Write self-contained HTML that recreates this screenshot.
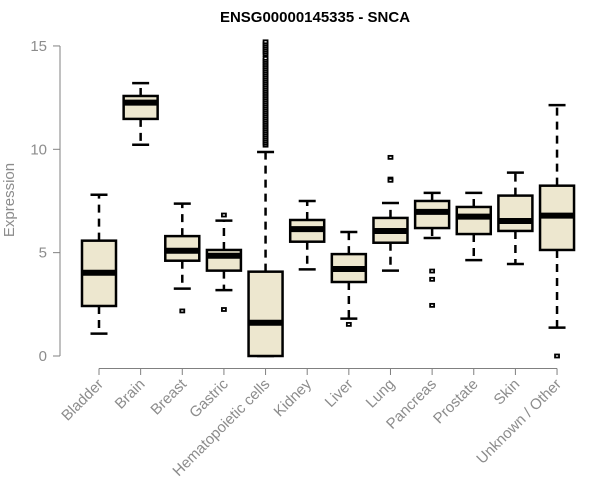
<!DOCTYPE html>
<html><head><meta charset="utf-8"><style>
body{margin:0;background:#fff;}
svg{display:block;font-family:"Liberation Sans",Arial,sans-serif;}
</style></head><body>
<svg id="chart" width="600" height="500">
<text x="315" y="22" text-anchor="middle" font-weight="bold" font-size="15" fill="#000">ENSG00000145335 - SNCA</text>
<text transform="translate(14,200) rotate(-90)" text-anchor="middle" font-size="15" fill="#8c8c8c">Expression</text>
<g id="plot"></g>
</svg>
<script>
const categories=["Bladder","Brain","Breast","Gastric","Hematopoietic cells","Kidney","Liver","Lung","Pancreas","Prostate","Skin","Unknown / Other"];
const whiskerLow=[1.08,10.22,3.26,3.19,0,4.19,1.81,4.13,5.71,4.64,4.45,1.37];
const q1=[2.42,11.47,4.61,4.13,0,5.53,3.58,5.48,6.19,5.9,6.05,5.13];
const medians=[4.03,12.26,5.09,4.85,1.61,6.14,4.21,6.05,6.97,6.74,6.53,6.79];
const q3=[5.58,12.58,5.8,5.13,4.08,6.58,4.93,6.68,7.5,7.21,7.76,8.24];
const whiskerHigh=[7.8,13.2,7.37,6.55,9.87,7.5,6.0,7.4,7.89,7.89,8.87,12.14];
const outlierCat=[2,3,3,6,7,7,7,8,8,8,11];
const outlierVal=[2.18,2.25,6.82,1.53,9.61,8.56,8.5,4.11,3.71,2.45,0.0];
const hematoOutliers=[10.2,10.3,10.4,10.5,10.6,10.7,10.8,10.9,11.0,11.1,11.2,11.3,11.4,11.5,11.6,11.7,11.8,11.9,12.0,12.1,12.2,12.3,12.4,12.5,12.6,12.7,12.8,12.9,13.0,13.1,13.2,13.3,13.4,13.5,13.6,13.7,13.8,13.9,14.0,14.1,14.2,14.3,14.4,14.6,14.7,14.8,14.9,15.0,15.1,15.2];
const yTicks=[0,5,10,15];

const NS="http://www.w3.org/2000/svg";
const g=document.getElementById('plot');
const y=v=>356-v*20.67;
const x=i=>99+i*41.64;
function mk(tag,attrs,parent){const e=document.createElementNS(NS,tag);for(const k in attrs)e.setAttribute(k,attrs[k]);(parent||g).appendChild(e);return e;}

let ax=mk('line',{x1:60,x2:60,y1:y(0),y2:y(15),stroke:'#808080','stroke-width':1});


yTicks.forEach(t=>{
  const tl=mk('line',{x1:53,x2:60,y1:y(t),y2:y(t),stroke:'#808080'});
  
  
  const tx=mk('text',{x:47,y:y(t)+5,'text-anchor':'end','font-size':15,fill:'#8c8c8c'});
  tx.textContent=t;
  
  
});
let xa=mk('line',{x1:x(0),x2:x(categories.length-1),y1:368.5,y2:368.5,stroke:'#808080'});


categories.forEach((c,i)=>{
  const tl=mk('line',{x1:x(i),x2:x(i),y1:368.5,y2:375,stroke:'#808080'});
  
  
  const tx=mk('text',{transform:`translate(${x(i)+5},${385}) rotate(-45)`,'text-anchor':'end','font-size':15,fill:'#8c8c8c'});
  tx.textContent=c;
  
  
});
const hw=17,cw=8.5;
categories.forEach((c,i)=>{
  const grp=mk('g',{});
  
  
  const cx=x(i);
  mk('line',{x1:cx,x2:cx,y1:y(q3[i]),y2:y(whiskerHigh[i]),stroke:'#000','stroke-width':2.5,'stroke-dasharray':'8,6'},grp);
  mk('line',{x1:cx,x2:cx,y1:y(q1[i]),y2:y(whiskerLow[i]),stroke:'#000','stroke-width':2.5,'stroke-dasharray':'8,6'},grp);
  mk('line',{x1:cx-cw,x2:cx+cw,y1:y(whiskerHigh[i]),y2:y(whiskerHigh[i]),stroke:'#000','stroke-width':2.5},grp);
  mk('line',{x1:cx-cw,x2:cx+cw,y1:y(whiskerLow[i]),y2:y(whiskerLow[i]),stroke:'#000','stroke-width':2.5},grp);
  mk('rect',{x:cx-hw,y:y(q3[i]),width:2*hw,height:y(q1[i])-y(q3[i]),fill:'#ede7cf',stroke:'#000','stroke-width':2.5},grp);
  mk('line',{x1:cx-hw,x2:cx+hw,y1:y(medians[i]),y2:y(medians[i]),stroke:'#000','stroke-width':6},grp);
});
function outlier(i,v){
  const r=mk('rect',{x:x(i)-2,y:y(v)-1.5,width:4,height:3,fill:'#fff',stroke:'#000','stroke-width':1.8});
  
  
}
outlierCat.forEach((ci,k)=>outlier(ci,outlierVal[k]));
hematoOutliers.forEach(v=>outlier(4,v));
</script>
</body></html>
